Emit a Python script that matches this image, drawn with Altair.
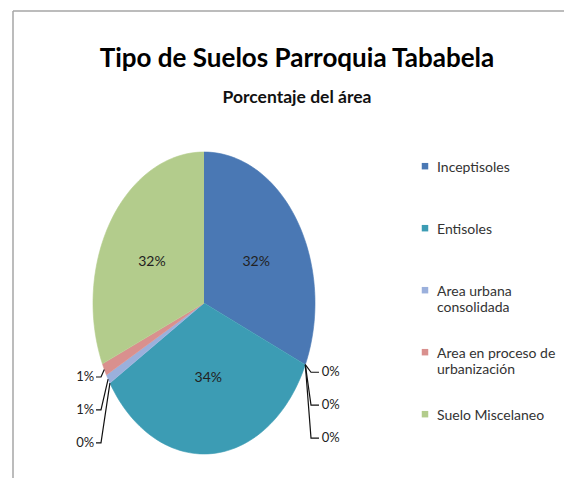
import json
import math
import textwrap

import altair as alt
import pandas as pd

# ---------------- data ----------------
categories = [
    "Inceptisoles", "Otro 1", "Otro 2", "Otro 3", "Entisoles", "Otro 4",
    "Area urbana consolidada", "Area en proceso de urbanización", "Suelo Miscelaneo",
]
percent = [31.7, 0.0, 0.0, 0.0, 34.4, 0.0, 1.0, 1.3, 31.6]
colors = ["#4a78b4", "#7f7f7f", "#7f7f7f", "#7f7f7f", "#3c9cb4", "#7f7f7f",
          "#9bb0dc", "#d9908e", "#b3cc8c"]
legend_names = ["Inceptisoles", "Entisoles", "Area urbana consolidada",
                "Area en proceso de urbanización", "Suelo Miscelaneo"]

title_text = "Tipo de Suelos Parroquia Tababela"
subtitle_text = "Porcentaje del área"

# ---------------- layout ----------------
W, H = 556, 470
CX, CY = 196, 295      # pie centre (view px)
RX, RY = 111, 151      # pie radii (view px), Excel stretched the pie

xs = alt.Scale(domain=[-CX / RX, (W - CX) / RX], nice=False, zero=False)
ys = alt.Scale(domain=[-(H - CY) / RY, CY / RY], nice=False, zero=False)
fill_scale = alt.Scale(domain=categories, range=colors)

slices = pd.DataFrame({"categoria": categories, "pct": percent,
                       "idx": list(range(len(categories)))})

# legend label wrapping (Excel wraps long names onto two lines)
wrapped = {}
for n in legend_names:
    lines = textwrap.wrap(n, 18)
    if len(lines) == 1:
        lines.append(" ")
    wrapped[n] = lines
label_expr = " : ".join(
    f"datum.label == {json.dumps(n, ensure_ascii=False)} ? {json.dumps(l, ensure_ascii=False)}"
    for n, l in wrapped.items()
) + " : datum.label"

legend = alt.Legend(
    orient="none", legendX=410, legendY=146, title=None, values=legend_names,
    # square symbol nudged down so it sits beside the first label line
    symbolType="M-1,0.6H1V2.6H-1Z", symbolSize=42, symbolStrokeWidth=0,
    labelFont="Lato", labelFontSize=14, labelColor="#333333",
    labelExpr=label_expr, labelLimit=300, rowPadding=25, padding=0,
    labelOffset=5, labelBaseline="top",
)

pie = (
    alt.Chart(slices)
    .transform_window(cum="sum(pct)", sort=[alt.SortField("idx")], frame=[None, 0])
    .transform_joinaggregate(total="sum(pct)")
    .transform_calculate(
        a0="2*PI*(datum.cum - datum.pct)/datum.total",
        a1="2*PI*datum.cum/datum.total",
        pts="sequence(0, 62)",
    )
    .transform_filter("datum.pct > 0")
    .transform_flatten(["pts"])
    .transform_calculate(ang="datum.a0 + (datum.a1 - datum.a0)*(datum.pts - 1)/60")
    .transform_calculate(
        px="datum.pts == 0 ? 0 : sin(datum.ang)",
        py="datum.pts == 0 ? 0 : cos(datum.ang)",
    )
    .mark_line(strokeWidth=0.6)
    .encode(
        x=alt.X("px:Q", scale=xs, axis=None),
        y=alt.Y("py:Q", scale=ys, axis=None),
        fill=alt.Fill("categoria:N", scale=fill_scale, legend=legend),
        stroke=alt.Stroke("categoria:N", scale=fill_scale, legend=None),
        order=alt.Order("pts:Q"),
        detail="categoria:N",
    )
)

# ---------------- labels ----------------
tot = sum(percent)
cum = 0.0
rows = []
for name, p in zip(categories, percent):
    a0 = 2 * math.pi * cum / tot
    cum += p
    a1 = 2 * math.pi * cum / tot
    rows.append((name, p, (a0 + a1) / 2))

inside_rows = []
right, left = [], []
for name, p, mid in rows:
    txt = f"{round(p)}%"
    if p >= 5:
        inside_rows.append({"lx": 0.56 * math.sin(mid), "ly": 0.5 * math.cos(mid), "txt": txt})
    elif mid < math.pi:
        right.append((mid, txt))
    else:
        left.append((mid, txt))

right.sort(key=lambda t: t[0])
left.sort(key=lambda t: -t[0])

out_rows, lead_rows = [], []
lid = 0
for side, group in ((1, right), (-1, left)):
    if not group:
        continue
    y0 = math.cos(group[0][0]) - 0.05
    for k, (mid, txt) in enumerate(group):
        ly = y0 - 0.218 * k
        ex, ey = math.sin(mid), math.cos(mid)
        elbow = 0.964 if side > 0 else -0.928
        end = 1.036 if side > 0 else -0.973
        tx = 1.06 if side > 0 else -0.99
        out_rows.append({"lx": tx, "ly": ly, "txt": txt, "side": side})
        for s, (xx, yy) in enumerate(((ex, ey), (elbow, ly), (end, ly))):
            lead_rows.append({"lid": lid, "seq": s, "lx": xx, "ly": yy})
        lid += 1

df_in = pd.DataFrame(inside_rows)
df_out = pd.DataFrame(out_rows)
df_lead = pd.DataFrame(lead_rows)

enc = dict(x=alt.X("lx:Q", scale=xs, axis=None), y=alt.Y("ly:Q", scale=ys, axis=None))

inside = alt.Chart(df_in).mark_text(font="Lato", fontSize=14, color="#222222").encode(
    text="txt:N", **enc)
right_text = alt.Chart(df_out).transform_filter("datum.side > 0").mark_text(
    font="Lato", fontSize=13, color="#222222", align="left", baseline="middle").encode(
    text="txt:N", **enc)
left_text = alt.Chart(df_out).transform_filter("datum.side < 0").mark_text(
    font="Lato", fontSize=13, color="#222222", align="right", baseline="middle").encode(
    text="txt:N", **enc)
leaders = alt.Chart(df_lead).mark_line(color="#111111", strokeWidth=1.2).encode(
    detail="lid:N", order=alt.Order("seq:Q"), **enc)

frame_df = pd.DataFrame({"k": [0]})
border_top = alt.Chart(frame_df).mark_rule(color="#a6a6a6", strokeWidth=1.5).encode(
    x=alt.value(5), x2=alt.value(W), y=alt.value(3))
border_left = alt.Chart(frame_df).mark_rule(color="#a6a6a6", strokeWidth=1.5).encode(
    x=alt.value(5), y=alt.value(3), y2=alt.value(H))

chart = (
    alt.layer(border_top, border_left, pie, leaders, inside, right_text, left_text)
    .properties(
        width=W, height=H, padding=0, autosize="none",
        title=alt.Title(
            text=title_text, subtitle=subtitle_text, anchor="middle",
            offset=-98, dx=11, font="Lato", fontSize=26, fontWeight="bold",
            color="#000000", subtitleFont="Lato", subtitleFontSize=17.5,
            subtitleFontWeight="bold", subtitleColor="#111111", subtitlePadding=17,
        ),
    )
    .configure_view(stroke=None)
)

chart.save("out.html", embed_options={"renderer": "svg", "actions": False})
